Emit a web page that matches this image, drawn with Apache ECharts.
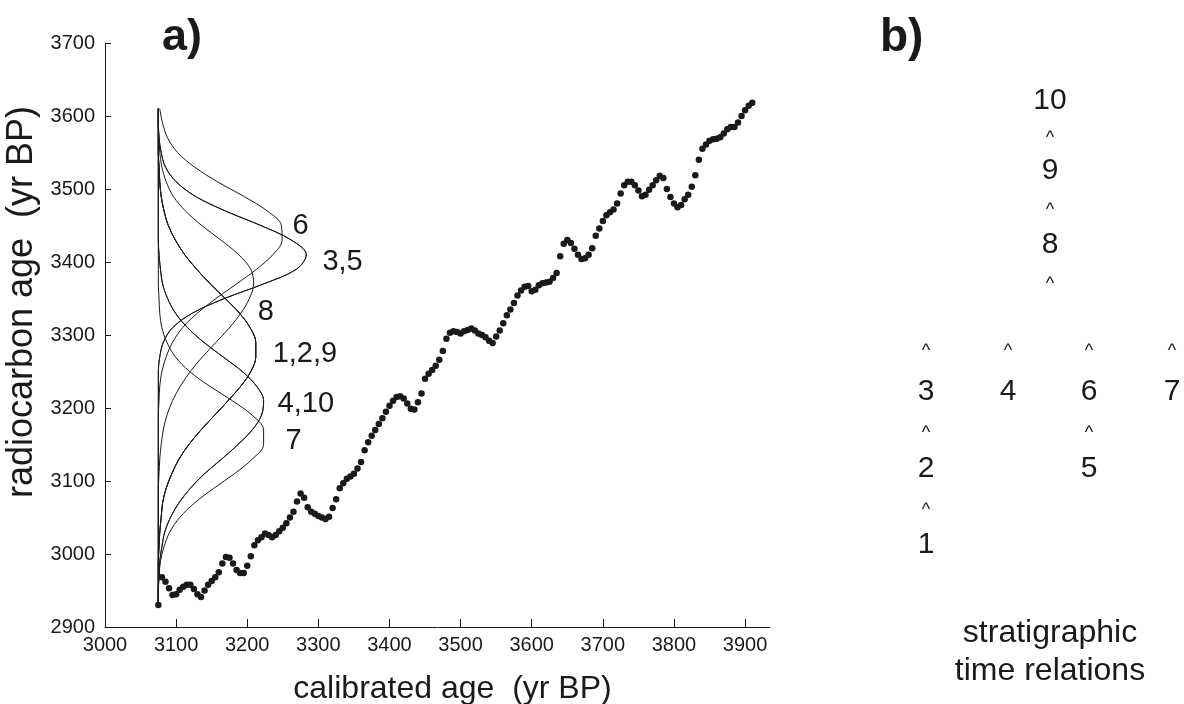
<!DOCTYPE html>
<html>
<head>
<meta charset="utf-8">
<title>Calibration of radiocarbon dates with stratigraphic constraints</title>
<script src="https://cdn.jsdelivr.net/npm/echarts@6.0.0/dist/echarts.min.js"></script>
<style>
  html, body { margin: 0; padding: 0; background: #ffffff; }
  #chart { width: 1184px; height: 704px; }
</style>
</head>
<body>
<div id="chart"></div>
<script>
// ---- calibration curve: calibrated age (yr BP) vs radiocarbon age (yr BP) ----
const calAge = [
  3075, 3080, 3085, 3090, 3095, 3100, 3105, 3110, 3115, 3120, 3125, 3130, 3135, 3140, 3145, 3150,
  3155, 3160, 3165, 3170, 3175, 3180, 3185, 3190, 3195, 3200, 3205, 3210, 3215, 3220, 3225, 3230,
  3235, 3240, 3245, 3250, 3255, 3260, 3265, 3270, 3275, 3280, 3285, 3290, 3295, 3300, 3305, 3310,
  3315, 3320, 3325, 3330, 3335, 3340, 3345, 3350, 3355, 3360, 3365, 3370, 3375, 3380, 3385, 3390,
  3395, 3400, 3405, 3410, 3415, 3420, 3425, 3430, 3435, 3440, 3445, 3450, 3455, 3460, 3465, 3470,
  3475, 3480, 3485, 3490, 3495, 3500, 3505, 3510, 3515, 3520, 3525, 3530, 3535, 3540, 3545, 3550,
  3555, 3560, 3565, 3570, 3575, 3580, 3585, 3590, 3595, 3600, 3605, 3610, 3615, 3620, 3625, 3630,
  3635, 3640, 3645, 3650, 3655, 3660, 3665, 3670, 3675, 3680, 3685, 3690, 3695, 3700, 3705, 3710,
  3715, 3720, 3725, 3730, 3735, 3740, 3745, 3750, 3755, 3760, 3765, 3770, 3775, 3780, 3785, 3790,
  3795, 3800, 3805, 3810, 3815, 3820, 3825, 3830, 3835, 3840, 3845, 3850, 3855, 3860, 3865, 3870,
  3875, 3880, 3885, 3890, 3895, 3900, 3905, 3910
];
const calRc = [
  2930, 2968, 2962, 2953, 2944, 2945, 2951, 2955, 2958, 2958, 2952, 2945, 2941, 2950, 2958, 2963,
  2968, 2975, 2987, 2996, 2995, 2987, 2978, 2974, 2974, 2984, 2997, 3012, 3019, 3023, 3028, 3026,
  3023, 3026, 3031, 3036, 3042, 3050, 3058, 3072, 3083, 3077, 3064, 3058, 3055, 3052, 3050, 3048,
  3051, 3063, 3075, 3090, 3097, 3103, 3106, 3110, 3117, 3126, 3142, 3153, 3162, 3170, 3178, 3186,
  3195, 3203, 3210, 3215, 3216, 3213, 3206, 3199, 3198, 3208, 3220, 3240, 3247, 3252, 3258, 3266,
  3278, 3295, 3303, 3305, 3304, 3302, 3305, 3307, 3309, 3306, 3302, 3300, 3297, 3292, 3289, 3298,
  3306, 3316, 3327, 3335, 3344, 3354, 3361, 3366, 3367, 3360, 3362, 3368, 3371, 3372, 3373, 3378,
  3385, 3408, 3425, 3430, 3426, 3418, 3410, 3404, 3405, 3410, 3419, 3436, 3446, 3456, 3464, 3468,
  3472, 3480, 3494, 3505, 3510, 3510, 3505, 3498, 3490, 3492, 3499, 3505, 3512, 3518, 3515, 3500,
  3489, 3480, 3475, 3478, 3486, 3492, 3503, 3519, 3540, 3555, 3561, 3566, 3568, 3569, 3571, 3576,
  3582, 3585, 3585, 3591, 3600, 3608, 3614, 3618
];

// ---- probability curves of the ten dated samples ----
// radiocarbon ages at which each curve is sampled
const densityRc = [
  2930, 2950, 2970, 2990, 3010, 3030, 3050, 3070, 3090, 3110, 3130, 3150, 3170, 3190, 3210, 3230,
  3250, 3270, 3290, 3310, 3330, 3350, 3370, 3390, 3410, 3430, 3450, 3470, 3490, 3510, 3530, 3550,
  3570, 3590, 3610
];
// calibrated-age position of the zero line the curves rise from
const densityBaseline = 3075;
// curve heights (in calibrated years right of the zero line)
const density129 = [0, 0, 0, 0, 1, 2, 4, 6, 11, 19, 29, 43, 60, 79, 98, 116,
  130, 137, 137, 129, 114, 94, 73, 54, 37, 24, 14, 8, 4, 2, 1, 0, 0, 0, 0];
const density35 = [0, 0, 0, 0, 0, 0, 0, 0, 0, 0, 0, 0, 0, 0, 0, 0,
  0, 2, 7, 20, 48, 93, 148, 194, 208, 187, 144, 94, 52, 25, 10, 4, 1, 0, 0];
const density410 = [0, 0, 1, 2, 5, 9, 17, 29, 45, 65, 89, 112, 132, 145, 148, 138,
  118, 91, 64, 41, 24, 13, 6, 3, 1, 0, 0, 0, 0, 0, 0, 0, 0, 0, 0];
const density6 = [0, 0, 0, 0, 0, 0, 0, 0, 0, 0, 0, 0, 0, 0, 1, 2,
  5, 11, 20, 34, 55, 81, 110, 138, 161, 174, 173, 153, 120, 83, 51, 27, 13, 6, 2];
const density7 = [0, 0, 1, 3, 8, 16, 30, 51, 78, 107, 132, 148, 148, 132, 104, 72,
  44, 24, 12, 5, 2, 1, 0, 0, 0, 0, 0, 0, 0, 0, 0, 0, 0, 0, 0];
const density8 = [0, 0, 0, 0, 0, 0, 0, 0, 0, 1, 2, 4, 7, 12, 20, 31,
  45, 62, 81, 100, 116, 128, 134, 130, 113, 88, 61, 38, 21, 11, 5, 2, 1, 0, 0];

const sampleIds = ['1', '2', '3', '4', '5', '6', '7', '8', '9', '10'];
const sampleDensity = {
  '1': density129, '2': density129, '3': density35, '4': density410, '5': density35,
  '6': density6, '7': density7, '8': density8, '9': density129, '10': density410
};

// labels beside the curve peaks: text, calibrated age, radiocarbon age
const curveLabelText = ['6', '3,5', '8', '1,2,9', '4,10', '7'];
const curveLabelCal = [3263, 3305, 3214, 3235, 3242, 3253];
const curveLabelRc = [3450, 3400, 3332, 3274, 3205, 3155];

// axis ticks
const xTicks = [3000, 3100, 3200, 3300, 3400, 3500, 3600, 3700, 3800, 3900];
const yTicks = [2900, 3000, 3100, 3200, 3300, 3400, 3500, 3600, 3700];

// ---- stratigraphic order (panel b): each column lists samples from young (top) to old ----
const stratTopChain = ['10', '9', '8'];
const stratColumns = [['3', '2', '1'], ['4'], ['6', '5'], ['7']];

// ---------------------------------------------------------------------------
const FONT = '"Liberation Sans", Arial, Helvetica, sans-serif';
const INK = '#1a1a1a';

const chart = echarts.init(document.getElementById('chart'), null, { renderer: 'canvas' });

const series = [];
sampleIds.forEach(function (id) {
  const h = sampleDensity[id];
  series.push({
    type: 'line',
    name: 'sample ' + id,
    data: densityRc.map(function (rc, i) { return [densityBaseline + h[i], rc]; }),
    symbol: 'none',
    showSymbol: false,
    smooth: 0.35,
    lineStyle: { color: INK, width: 1 },
    silent: true,
    z: 2
  });
});

series.push({
  type: 'scatter',
  name: 'calibration curve',
  data: calAge.map(function (c, i) { return [c, calRc[i]]; }),
  symbol: 'circle',
  symbolSize: 6.5,
  itemStyle: { color: INK, opacity: 1 },
  silent: true,
  z: 3
});

series.push({
  type: 'scatter',
  name: 'sample labels',
  data: curveLabelText.map(function (t, i) {
    return { name: t, value: [curveLabelCal[i], curveLabelRc[i]] };
  }),
  symbolSize: 1,
  itemStyle: { color: '#ffffff', opacity: 0 },
  label: {
    show: true, position: 'right', distance: 0, formatter: '{b}',
    fontFamily: FONT, fontSize: 29, color: INK, opacity: 1
  },
  silent: true,
  z: 4
});

// panel b: stratigraphic relations drawn as text
const graphic = [];
function addText(str, x, y, size, weight, align) {
  graphic.push({
    type: 'text', x: x, y: y, silent: true,
    style: {
      text: str, fill: INK,
      font: (weight || 'normal') + ' ' + size + 'px ' + FONT,
      align: align || 'center', textAlign: align || 'center',
      verticalAlign: 'middle', textVerticalAlign: 'middle'
    }
  });
}
addText('a)', 162, 38, 45, 'bold', 'left');
addText('b)', 880, 38, 46, 'bold', 'left');

const digitSize = 30, caretSize = 18, caretDrop = 3;
const chainX = 1050;
const chainRowY = [101, 171, 245];
const chainCaretY = [135, 207, 281];
stratTopChain.forEach(function (s, i) {
  addText(s, chainX, chainRowY[i], digitSize);
  addText('^', chainX, chainCaretY[i] + caretDrop, caretSize);
});
const colX = [926, 1008, 1089, 1172];
const colRowY = [392, 469, 545];
const colCaretY = [430, 507];
const colTopCaretY = 348;
stratColumns.forEach(function (col, c) {
  addText('^', colX[c], colTopCaretY + caretDrop, caretSize);
  col.forEach(function (s, r) {
    addText(s, colX[c], colRowY[r], digitSize);
    if (r < col.length - 1) addText('^', colX[c], colCaretY[r] + caretDrop, caretSize);
  });
});
addText('stratigraphic', 1050, 633, 32);
addText('time relations', 1050, 671, 32);

chart.setOption({
  animation: false,
  backgroundColor: '#ffffff',
  grid: { left: 105, top: 43, width: 665, height: 584, containLabel: false, outerBoundsMode: 'none' },
  xAxis: {
    type: 'value', min: 3000, max: 3935, interval: 100,
    name: 'calibrated age  (yr BP)', nameLocation: 'middle', nameGap: 46,
    nameTextStyle: { fontFamily: FONT, fontSize: 32, color: INK, padding: [0, 0, 0, 30] },
    axisLine: { show: true, onZero: false, lineStyle: { color: INK, width: 1 } },
    axisTick: { show: true, inside: true, length: 8, customValues: xTicks, lineStyle: { color: INK, width: 1 } },
    axisLabel: {
      customValues: xTicks, fontFamily: FONT, fontSize: 20, color: INK, margin: 8,
      formatter: function (v) { return String(v); }
    },
    splitLine: { show: false }
  },
  yAxis: {
    type: 'value', min: 2900, max: 3700, interval: 100,
    name: 'radiocarbon age  (yr BP)', nameLocation: 'middle', nameGap: 57,
    nameTextStyle: { fontFamily: FONT, fontSize: 36, color: INK, padding: [0, 0, 0, 66] },
    axisLine: { show: true, onZero: false, lineStyle: { color: INK, width: 1 } },
    axisTick: { show: true, inside: true, length: 6, customValues: yTicks, lineStyle: { color: INK, width: 1 } },
    axisLabel: {
      customValues: yTicks, fontFamily: FONT, fontSize: 20, color: INK, margin: 10,
      formatter: function (v) { return String(v); }
    },
    splitLine: { show: false }
  },
  tooltip: { show: false },
  series: series,
  graphic: graphic
});
</script>
</body>
</html>
